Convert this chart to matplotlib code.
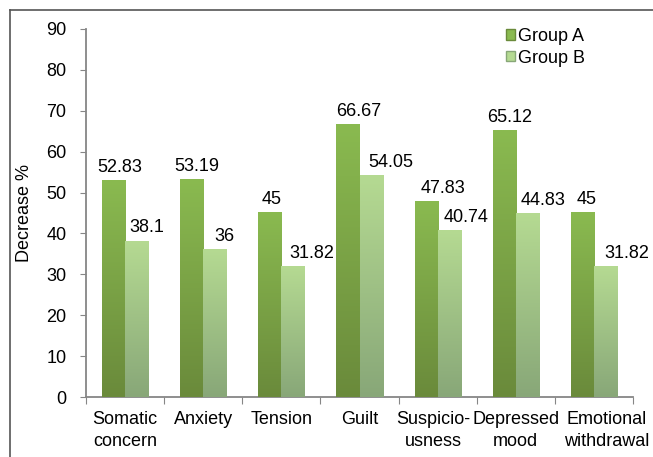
import numpy as np
import matplotlib
matplotlib.use('Agg')
import matplotlib.pyplot as plt
from matplotlib.colors import LinearSegmentedColormap
from matplotlib.lines import Line2D
from matplotlib.patches import Patch
from matplotlib.transforms import ScaledTranslation

plt.rcParams['font.family'] = ['Liberation Sans', 'DejaVu Sans']

# decrease in symptom scores, %
categories = ['Somatic\nconcern', 'Anxiety', 'Tension', 'Guilt',
              'Suspicio-\nusness', 'Depressed\nmood', 'Emotional\nwithdrawal']
group_a = [52.83, 53.19, 45, 66.67, 47.83, 65.12, 45]
group_b = [38.1, 36, 31.82, 54.05, 40.74, 44.83, 31.82]
series_names = ['Group A', 'Group B']
y_ticks = [0, 10, 20, 30, 40, 50, 60, 70, 80, 90]

# horizontal nudges of the value labels (points)
shift_a = [4.7, 3.6, 1.4, 7.9, 12.2, 3.6, 2.9]
shift_b = [7.2, 7.2, 13.7, 14.4, 11.9, 11.5, 15.1]
# horizontal nudges of the category labels (inches)
shift_cat = [0, 0, 0, 0, -0.04, 0, 0.13]

# bottom -> top gradient colours
grad_a = ['#6a8a3b', '#8aba50']
grad_b = ['#88a778', '#b5da92']

axis_grey = '#868686'
fs = 13

fig = plt.figure(figsize=(6.53, 4.57), dpi=100)
ax = fig.add_axes([86 / 653, 60 / 457, 547 / 653, 368 / 457])

x = np.arange(len(categories))
w = 0.295

def gradient_bars(xs, vals, cols):
    cmap = LinearSegmentedColormap.from_list('g', cols)
    bars = ax.bar(xs, vals, w, color=cols[1], edgecolor='none', zorder=2)
    grad = np.linspace(0, 1, 256).reshape(-1, 1)
    for b in bars:
        x0 = b.get_x()
        ax.imshow(grad, cmap=cmap, origin='lower', aspect='auto',
                  extent=(x0, x0 + b.get_width(), 0, b.get_height()),
                  zorder=3, interpolation='bilinear')
    return bars

bars_a = gradient_bars(x - w / 2, group_a, grad_a)
bars_b = gradient_bars(x + w / 2, group_b, grad_b)

for b, v, dx in zip(bars_a, group_a, shift_a):
    ax.annotate(f'{v:g}', (b.get_x() + b.get_width() / 2, v), xytext=(dx, 3.5),
                textcoords='offset points', ha='center', va='bottom', fontsize=fs)
for b, v, dx in zip(bars_b, group_b, shift_b):
    ax.annotate(f'{v:g}', (b.get_x() + b.get_width() / 2, v), xytext=(dx, 3.5),
                textcoords='offset points', ha='center', va='bottom', fontsize=fs)

ax.set_xlim(-0.5, len(categories) - 0.5)
ax.set_ylim(0, 90)
ax.set_yticks(y_ticks)

# ticks between categories, labels at centres
ax.set_xticks(np.arange(len(categories) + 1) - 0.5)
ax.set_xticklabels([])
ax.set_xticks(x, minor=True)
ax.set_xticklabels(categories, minor=True, fontsize=fs, linespacing=1.4)
ax.tick_params(axis='x', which='major', length=5, color=axis_grey, direction='out')
ax.tick_params(axis='x', which='minor', length=0, pad=10)
ax.tick_params(axis='y', length=4, color=axis_grey, labelsize=fs, pad=10)

for lbl, dx in zip(ax.get_xticklabels(minor=True), shift_cat):
    lbl.set_transform(lbl.get_transform() + ScaledTranslation(dx, 0, fig.dpi_scale_trans))

for s in ['top', 'right']:
    ax.spines[s].set_visible(False)
for s in ['left', 'bottom']:
    ax.spines[s].set_color(axis_grey)
    ax.spines[s].set_linewidth(1.3)

ax.set_ylabel('Decrease %', fontsize=fs)
ax.yaxis.set_label_coords(-0.096, 0.5)

handles = [Patch(facecolor=grad_a[1], edgecolor=grad_a[0]),
           Patch(facecolor=grad_b[1], edgecolor=grad_b[0])]
ax.legend(handles, series_names, loc='upper left', bbox_to_anchor=(506 / 653, 1 - 28 / 457),
          bbox_transform=fig.transFigure, frameon=False, borderpad=0, borderaxespad=0,
          fontsize=fs, handlelength=0.5, handleheight=0.5, handletextpad=0.15,
          labelspacing=0.25)

# outer frame, clipped at the right and bottom
fig.add_artist(Line2D([10 / 653, 1], [1 - 10 / 457, 1 - 10 / 457], color='#555555', lw=1.2))
fig.add_artist(Line2D([10 / 653, 10 / 653], [0, 1 - 10 / 457], color='#555555', lw=1.2))

fig.savefig('out.png', dpi=100)
